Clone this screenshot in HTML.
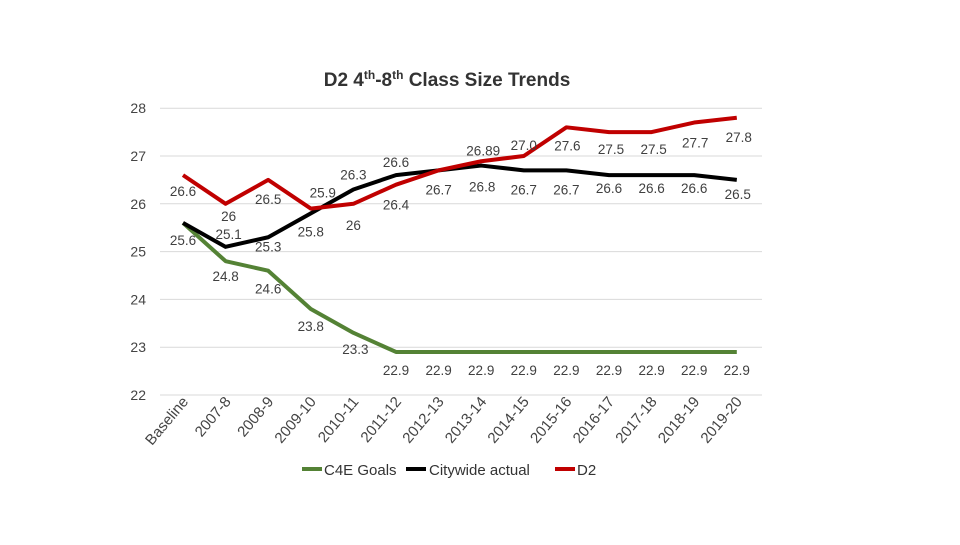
<!DOCTYPE html>
<html><head><meta charset="utf-8"><style>
body{margin:0;background:#fff;width:960px;height:540px;overflow:hidden;font-family:"Liberation Sans",sans-serif}
svg text{font-family:"Liberation Sans",sans-serif}
</style></head><body>
<svg id="chart" width="960" height="540" xmlns="http://www.w3.org/2000/svg">
<text x="447" y="86" text-anchor="middle" font-size="19" font-weight="bold" fill="#333">D2 4<tspan font-size="12" dy="-7">th</tspan><tspan dy="7">-8</tspan><tspan font-size="12" dy="-7">th</tspan><tspan dy="7"> Class Size Trends</tspan></text>
<g id="grid"></g><g id="lines"></g><g id="labels"></g><g id="xt"></g>
<g font-size="15" fill="#333">
<line x1="302" y1="469" x2="322" y2="469" stroke="#548235" stroke-width="4"/><text x="324" y="475">C4E Goals</text>
<line x1="406" y1="469" x2="426" y2="469" stroke="#000" stroke-width="4"/><text x="429" y="475">Citywide actual</text>
<line x1="555" y1="469" x2="575" y2="469" stroke="#c00000" stroke-width="4"/><text x="577" y="475">D2</text>
</g>
</svg>
<script>
const categories=["Baseline","2007-8","2008-9","2009-10","2010-11","2011-12","2012-13","2013-14","2014-15","2015-16","2016-17","2017-18","2018-19","2019-20"];
const c4e=[25.6,24.8,24.6,23.8,23.3,22.9,22.9,22.9,22.9,22.9,22.9,22.9,22.9,22.9];
const city=[25.6,25.1,25.3,25.8,26.3,26.6,26.7,26.8,26.7,26.7,26.6,26.6,26.6,26.5];
const d2=[26.6,26,26.5,25.9,26,26.4,26.7,26.89,27.0,27.6,27.5,27.5,27.7,27.8];
const d2Labels=["26.6","26","26.5","25.9","26","26.4","","26.89","27.0","27.6","27.5","27.5","27.7","27.8"];
const cityLabels=["25.6","25.1","25.3","25.8","26.3","26.6","26.7","26.8","26.7","26.7","26.6","26.6","26.6","26.5"];
const c4eLabels=["","24.8","24.6","23.8","23.3","22.9","22.9","22.9","22.9","22.9","22.9","22.9","22.9","22.9"];
const yTicks=[22,23,24,25,26,27,28];
const NS="http://www.w3.org/2000/svg";
const x=i=>183+i*42.6;
const y=v=>395-(v-22)*47.8;
function mk(tag,attrs,parent){const e=document.createElementNS(NS,tag);for(const k in attrs)e.setAttribute(k,attrs[k]);document.getElementById(parent).appendChild(e);return e;}
yTicks.forEach(t=>{
 const l=mk('line',{x1:160,x2:762,y1:y(t),y2:y(t),stroke:'#d9d9d9','stroke-width':1},'grid');
 
 
 const tx=mk('text',{x:146,y:y(t)+5,'text-anchor':'end','font-size':14,fill:'#444'},'grid');tx.textContent=t;
 
 
});
categories.forEach((c,i)=>{
 const t=mk('text',{transform:`translate(${x(i)+6},${402}) rotate(-50)`,'text-anchor':'end','font-size':15,fill:'#444'},'xt');t.textContent=c;
 
 
});
function series(vals,color,name){
 const p=mk('polyline',{points:vals.map((v,i)=>x(i)+','+y(v)).join(' '),fill:'none',stroke:color,'stroke-width':4,'stroke-linejoin':'round'},'lines');
 
 
}
series(c4e,'#548235','c4e-goals');series(city,'#000','citywide');series(d2,'#c00000','d2');
const d2Off=[[0,21],[3,17],[0,24],[12,-11],[0,26],[0,25],[0,0],[2,-6],[0,-6],[1,23],[2,22],[2,22],[1,25],[2,24]];
const cityOff=[[0,22],[3,-8],[0,14],[0,23],[0,-10],[0,-8],[0,24],[1,26],[0,24],[0,24],[0,18],[0,18],[0,18],[1,19]];
const c4eOff=[[0,0],[0,20],[0,23],[0,22],[2,21],[0,23],[0,23],[0,23],[0,23],[0,23],[0,23],[0,23],[0,23],[0,23]];
function labels(vals,labs,off,name){
 vals.forEach((v,i)=>{if(!labs[i])return;
  const t=mk('text',{x:x(i)+off[i][0],y:y(v)+off[i][1],'text-anchor':'middle','font-size':13.5,fill:'#404040'},'labels');t.textContent=labs[i];
  
  
 });
}
labels(d2,d2Labels,d2Off,'d2');labels(city,cityLabels,cityOff,'citywide');labels(c4e,c4eLabels,c4eOff,'c4e');
</script>
</body></html>
